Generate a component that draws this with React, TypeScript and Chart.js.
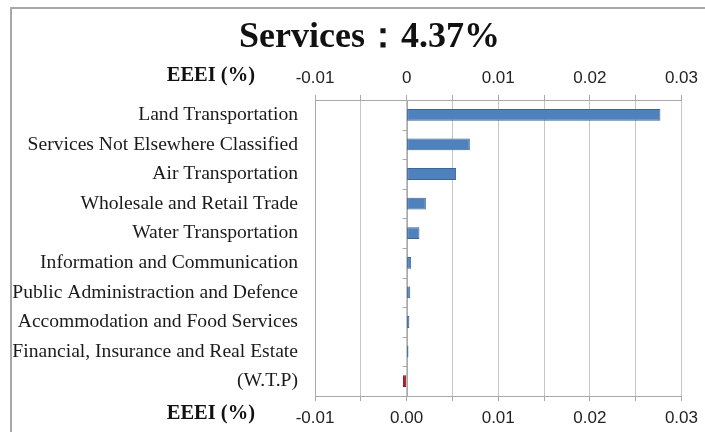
import React, { useEffect, useRef } from 'react';
import { Chart, registerables } from 'chart.js';

Chart.register(...registerables);

const categories = [
  'Land Transportation',
  'Services Not Elsewhere Classified',
  'Air Transportation',
  'Wholesale and Retail Trade',
  'Water Transportation',
  'Information and Communication',
  'Public Administraction and Defence',
  'Accommodation and Food Services',
  'Financial, Insurance and Real Estate',
  '(W.T.P)',
];
const eeeiValues = [0.0277, 0.0069, 0.0054, 0.0021, 0.0014, 0.0005, 0.0004, 0.0003, 0.0002, -0.0004];
const topTickLabels = ['-0.01', '0', '0.01', '0.02', '0.03'];
const bottomTickLabels = ['-0.01', '0.00', '0.01', '0.02', '0.03'];
const titleText = 'Services：4.37%';
const axisName = 'EEEI (%)';
const xMin = -0.01;
const xMax = 0.03;
const xStep = 0.005;

const SERIF = '"Liberation Serif", "Times New Roman", serif';
const SANS = '"Liberation Sans", sans-serif';
const GRID = '#c6c6c6';
const BORDER = '#a9a9a9';

const tickLabel = (labels: string[]) => (value: any) => {
  const idx = Math.round((Number(value) - xMin) / xStep);
  return idx % 2 === 0 ? labels[idx / 2] ?? '' : '';
};

const decor = {
  id: 'decor',
  beforeDatasetsDraw(chart: any) {
    const { ctx, chartArea, scales } = chart;
    const x0 = Math.round(scales.x.getPixelForValue(0)) + 0.5;
    ctx.save();
    ctx.strokeStyle = BORDER;
    ctx.lineWidth = 1;
    ctx.beginPath();
    ctx.moveTo(x0, chartArea.top);
    ctx.lineTo(x0, chartArea.bottom);
    const ys = scales.y;
    for (let i = 1; i < categories.length; i++) {
      const yb = Math.round((ys.getPixelForValue(i - 1) + ys.getPixelForValue(i)) / 2) + 0.5;
      ctx.moveTo(x0 - 5, yb);
      ctx.lineTo(x0, yb);
    }
    ctx.stroke();
    ctx.restore();
  },
  afterDraw(chart: any) {
    const { ctx } = chart;
    ctx.save();
    ctx.fillStyle = '#111';
    ctx.textBaseline = 'middle';
    ctx.textAlign = 'center';
    ctx.font = `bold 36px ${SERIF}`;
    ctx.fillText(titleText, chart.width / 2 + 11, 29);
    ctx.font = `bold 20.5px ${SERIF}`;
    ctx.textAlign = 'right';
    ctx.fillText(axisName, 243, 67);
    ctx.fillText(axisName, 243, 405);
    ctx.restore();
  },
};

export default function App() {
  const ref = useRef<HTMLCanvasElement | null>(null);

  useEffect(() => {
    if (!ref.current) return;
    const chart = new Chart(ref.current, {
      type: 'bar',
      data: {
        labels: categories,
        datasets: [
          {
            label: axisName,
            data: eeeiValues,
            backgroundColor: eeeiValues.map((v) => (v >= 0 ? '#4F81BD' : '#C0202C')),
            borderColor: eeeiValues.map((v) => (v >= 0 ? '#3A6596' : '#8E1620')),
            borderWidth: 1,
            borderSkipped: false,
            categoryPercentage: 0.8,
            barPercentage: 0.5,
          },
        ],
      },
      options: {
        indexAxis: 'y',
        responsive: false,
        animation: false,
        layout: { padding: { top: 40, right: 22, left: 0, bottom: 0 } },
        plugins: { legend: { display: false }, title: { display: false }, tooltip: { enabled: false } },
        scales: {
          x: {
            type: 'linear',
            position: 'bottom',
            min: xMin,
            max: xMax,
            ticks: {
              stepSize: xStep,
              autoSkip: false,
              maxRotation: 0,
              padding: 7,
              color: '#222',
              font: { family: SANS, size: 17 },
              callback: tickLabel(bottomTickLabels),
            },
            grid: { color: GRID, tickColor: BORDER, tickLength: 5, drawTicks: true },
            border: { color: BORDER, width: 1 },
            afterFit: (axis: any) => {
              axis.height = 36;
            },
          },
          x2: {
            type: 'linear',
            position: 'top',
            min: xMin,
            max: xMax,
            ticks: {
              stepSize: xStep,
              autoSkip: false,
              maxRotation: 0,
              padding: 6,
              color: '#222',
              font: { family: SANS, size: 17 },
              callback: tickLabel(topTickLabels),
            },
            grid: { drawOnChartArea: false, tickColor: BORDER, tickLength: 5 },
            border: { color: BORDER, width: 1 },
            afterFit: (axis: any) => {
              axis.height = 51;
            },
          },
          y: {
            type: 'category',
            position: 'left',
            ticks: {
              padding: 17,
              color: '#1a1a1a',
              font: { family: SERIF, size: 19.6 },
              autoSkip: false,
            },
            grid: { display: false, drawTicks: false },
            border: { color: BORDER, width: 1 },
            afterFit: (axis: any) => {
              axis.width = 303;
            },
          },
        },
      },
      plugins: [decor],
    });
    return () => chart.destroy();
  }, []);

  return (
    <div
      style={{
        position: 'absolute',
        left: 10,
        top: 7,
        width: 695,
        height: 425,
        borderLeft: '2px solid #a8a8a8',
        borderTop: '2px solid #a8a8a8',
        background: '#fff',
      }}
    >
      <canvas ref={ref} width={693} height={423} style={{ display: 'block' }} />
    </div>
  );
}
